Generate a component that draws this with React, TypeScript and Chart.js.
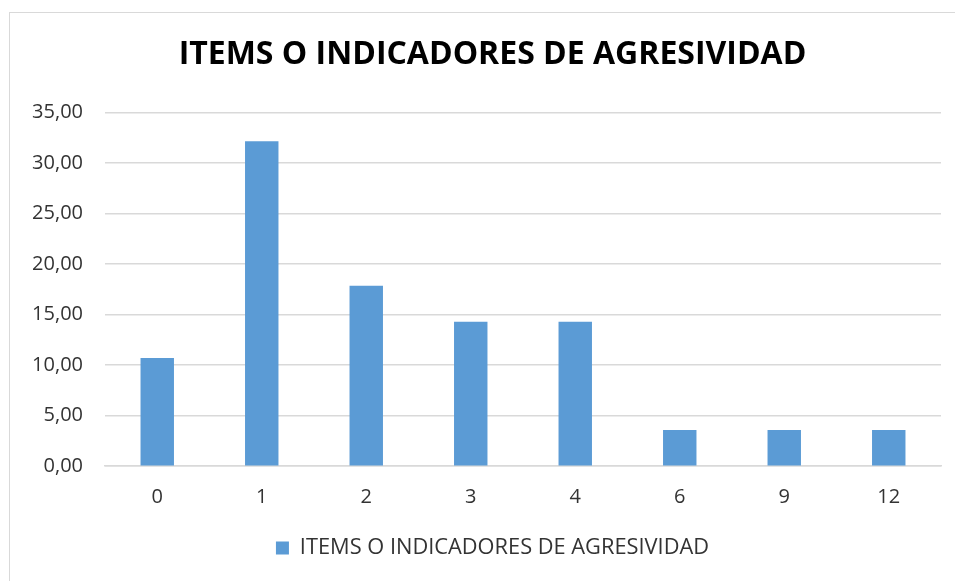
import React, { useEffect, useRef } from "react";
import { Chart, registerables } from "chart.js";

Chart.register(...registerables);

const categories = ["0", "1", "2", "3", "4", "6", "9", "12"];
const seriesName = "ITEMS O INDICADORES DE AGRESIVIDAD";
const values = [10.71, 32.14, 17.86, 14.29, 14.29, 3.57, 3.57, 3.57];
const titleText = "ITEMS O INDICADORES DE AGRESIVIDAD";

export default function App() {
  const ref = useRef<HTMLCanvasElement | null>(null);

  useEffect(() => {
    if (!ref.current) return;
    const chart = new Chart(ref.current, {
      type: "bar",
      data: {
        labels: categories,
        datasets: [
          {
            label: seriesName,
            data: values,
            backgroundColor: "#5b9bd5",
            borderWidth: 0,
            categoryPercentage: 0.8,
            barPercentage: 0.4,
          },
        ],
      },
      options: {
        animation: false,
        responsive: false,
        devicePixelRatio: 1,
        layout: { padding: { left: 30, right: 0, top: 0, bottom: 12 } },
        plugins: {
          title: {
            display: true,
            text: titleText,
            color: "#000000",
            font: { family: "'Open Sans', sans-serif", size: 32, weight: "bold" },
            padding: { top: 36, bottom: 38 },
          },
          legend: {
            position: "bottom",
            labels: {
              color: "#333333",
              font: { family: "'Open Sans', sans-serif", size: 21.8 },
              boxWidth: 13,
              boxHeight: 13,
              padding: 10,
            },
          },
          tooltip: { enabled: false },
        },
        scales: {
          x: {
            grid: { display: false },
            border: { display: true, color: "#d9d9d9", width: 1.5 },
            ticks: {
              color: "#333333",
              font: { family: "'Open Sans', sans-serif", size: 20 },
              padding: 11,
            },
            afterFit: (scale: any) => {
              scale.height = 61;
            },
          },
          y: {
            min: 0,
            max: 35,
            grid: { color: "#d9d9d9", lineWidth: 1.5, drawTicks: false },
            border: { display: false },
            ticks: {
              stepSize: 5,
              color: "#333333",
              font: { family: "'Open Sans', sans-serif", size: 20 },
              padding: 22,
              callback: (v: any) => Number(v).toFixed(2).replace(".", ","),
            },
            afterFit: (scale: any) => {
              scale.width = 75;
            },
          },
          y2: {
            position: "right",
            display: true,
            grid: { display: false },
            border: { display: false },
            ticks: { display: false },
            afterFit: (scale: any) => {
              scale.width = 14;
            },
          },
        },
      },
    });
    return () => chart.destroy();
  }, []);

  return (
    <div style={{ position: "fixed", left: 0, top: 0, width: 955, height: 581, overflow: "hidden", background: "#fff" }}>
      <canvas ref={ref} width={955} height={581} style={{ position: "absolute", left: 0, top: 0 }} />
      <div
        style={{
          position: "absolute",
          left: 9,
          top: 12,
          width: 1100,
          height: 1100,
          border: "1.5px solid #d9d9d9",
          pointerEvents: "none",
        }}
      />
    </div>
  );
}
